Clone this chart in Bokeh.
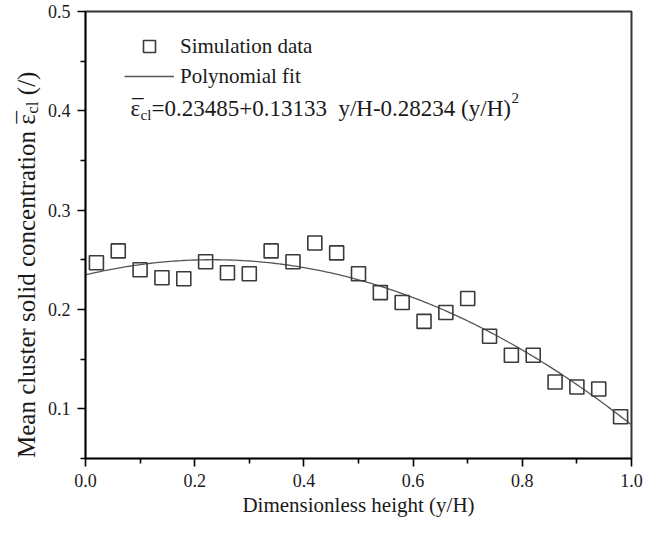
import numpy as np
from bokeh.plotting import figure
from bokeh.layouts import row
from bokeh.models import (Range1d, FixedTicker, NumeralTickFormatter, Legend, LegendItem, Label)
from bokeh.embed import file_html
from bokeh.resources import INLINE

# ---- data ----
height = [0.02, 0.06, 0.10, 0.14, 0.18, 0.22, 0.26, 0.30, 0.34, 0.38, 0.42, 0.46, 0.50,
          0.54, 0.58, 0.62, 0.66, 0.70, 0.74, 0.78, 0.82, 0.86, 0.90, 0.94, 0.98]
conc = [0.247, 0.259, 0.240, 0.232, 0.231, 0.248, 0.237, 0.236, 0.259, 0.248, 0.267, 0.257, 0.236,
        0.217, 0.207, 0.188, 0.197, 0.211, 0.173, 0.154, 0.154, 0.127, 0.122, 0.120, 0.092]
fit_coef = [-0.28234, 0.13133, 0.23485]   # a2, a1, a0 (from the chart's equation)
x_ticks = [0.0, 0.2, 0.4, 0.6, 0.8, 1.0]
x_minor = [0.1, 0.3, 0.5, 0.7, 0.9]
y_ticks = [0.1, 0.2, 0.3, 0.4, 0.5]
y_minor = [0.05, 0.15, 0.25, 0.35, 0.45]

FONT = "Liberation Serif"
TXT = "#1a1a1a"
H = 519
SIDE_W = 44


def lab(text, x, y, size, angle=0.0):
    return Label(x=x, y=y, x_units="screen", y_units="screen", text=text, angle=angle,
                 text_font=FONT, text_font_size=size, text_color=TXT,
                 text_align="left", text_baseline="alphabetic")


# ---- left strip holding the rotated y-axis title ----
side = figure(width=SIDE_W, height=H, output_backend="svg", toolbar_location=None,
              x_axis_location=None, y_axis_location=None, min_border=0,
              x_range=Range1d(0, 1), y_range=Range1d(0, 1))
side.grid.visible = False
side.outline_line_color = None
a = np.pi / 2
y0 = 0.5
side.add_layout(lab("Mean cluster solid concentration \u03b5", 26, y0, "25px", a))
side.add_layout(lab("\u00af", 26, y0 + 334.5, "25px", a))
side.add_layout(lab("cl", 32, y0 + 344.3, "17px", a))
side.add_layout(lab("(/)", 26, y0 + 362.8, "25px", a))

# ---- main plot ----
p = figure(width=652 - SIDE_W, height=H, output_backend="svg", toolbar_location=None,
           x_range=Range1d(0, 1), y_range=Range1d(0.05, 0.5),
           min_border_left=85 - SIDE_W, min_border_right=21, min_border_top=11, min_border_bottom=61)
p.grid.visible = False
p.outline_line_color = "#333333"
p.outline_line_width = 2
p.background_fill_color = "white"

fx = np.linspace(0, 1, 201)
fy = np.polyval(fit_coef, fx)
fit = p.line(fx, fy, line_color="#555555", line_width=1.3)
sq = p.scatter(height, conc, marker="square", size=14, fill_color=None,
               line_color="#3a3a3a", line_width=1.6)

for ax in (p.xaxis[0], p.yaxis[0]):
    ax.axis_line_width = 1.6
    ax.axis_line_color = "black"
    ax.major_tick_line_width = 1.6
    ax.minor_tick_line_width = 1.6
    ax.major_tick_out = 8
    ax.major_tick_in = 0
    ax.minor_tick_out = 5
    ax.minor_tick_in = 0
    ax.major_label_text_font = FONT
    ax.major_label_text_font_size = "18px"
    ax.major_label_text_color = TXT
    ax.axis_label_text_font = FONT
    ax.axis_label_text_font_style = "normal"
    ax.axis_label_text_color = TXT

p.xaxis.ticker = FixedTicker(ticks=x_ticks, minor_ticks=x_minor)
p.yaxis.ticker = FixedTicker(ticks=y_ticks, minor_ticks=y_minor)
p.xaxis.formatter = NumeralTickFormatter(format="0.0")
p.yaxis.formatter = NumeralTickFormatter(format="0.0")
p.xaxis.major_label_standoff = 7
p.yaxis.major_label_standoff = 7
p.xaxis.axis_label = "Dimensionless height (y/H)"
p.xaxis.axis_label_text_font_size = "21px"
p.xaxis.axis_label_standoff = 3

legend = Legend(items=[LegendItem(label="Simulation data", renderers=[sq]),
                       LegendItem(label="Polynomial fit", renderers=[fit])],
                location=(39, 367), padding=0, margin=0, spacing=0,
                glyph_width=50, glyph_height=30, label_height=30, label_standoff=6,
                label_text_font=FONT, label_text_font_size="21px", label_text_color=TXT,
                border_line_color=None, background_fill_alpha=0)
p.add_layout(legend)

# equation
ey = 350
p.add_layout(lab("\u03b5", 45, ey, "23px"))
p.add_layout(lab("\u00af", 46.5, ey, "23px"))
p.add_layout(lab("cl", 55, ey - 6, "15px"))
p.add_layout(lab("=0.23485+0.13133\u00a0 y/H-0.28234 (y/H)", 66, ey, "23px"))
p.add_layout(lab("2", 426, ey + 11, "15px"))

open("out.html", "w").write(file_html(row(side, p), INLINE))
